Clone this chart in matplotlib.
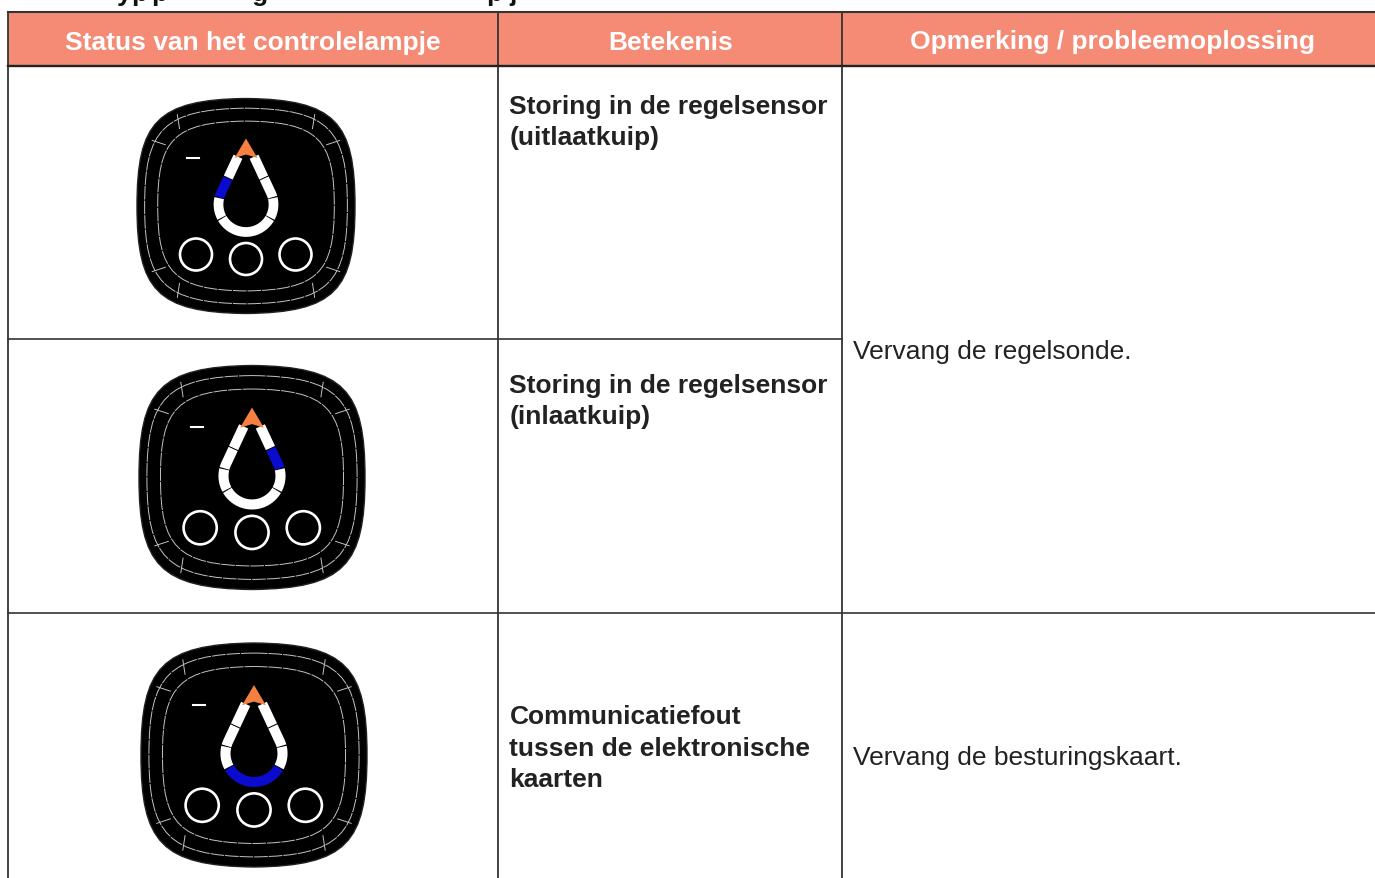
import numpy as np
import matplotlib
matplotlib.use("Agg")
import matplotlib.pyplot as plt
from matplotlib.path import Path
from matplotlib.patches import PathPatch, Polygon, Circle, Rectangle

plt.rcParams['font.family'] = ['Liberation Sans', 'DejaVu Sans']

W, H = 1375, 879
COL_X = [8.5, 498.5, 842.5, 1375]
ROW_Y = [12.5, 66.5, 339.5, 613.5, 879]

HEADERS = ["Status van het controlelampje", "Betekenis", "Opmerking / probleemoplossing"]
HEADER_X = [252.5, 671, 1112.5]
HEADER_Y = [43, 43, 42]

MEANINGS = ["Storing in de regelsensor\n(uitlaatkuip)",
            "Storing in de regelsensor\n(inlaatkuip)",
            "Communicatiefout\ntussen de elektronische\nkaarten"]
MEANING_Y = [95, 374, 705.5]
REMARKS = ["Vervang de regelsonde.", "Vervang de besturingskaart."]
REMARK_Y = [352.5, 758.5]

# clipped title above the table, only the descenders are visible
TITLE_BITS = [("y", 117), ("p", 131.5), ("p", 151.5), ("g", 251.5), ("p", 486.5), ("j", 509)]

# icon centre x, centre y, half width, half height, blue segment
ICONS = [(246, 207, 109, 107.5, "left"),
         (252, 478.5, 113, 112, "right"),
         (254, 756, 113, 112, "bottom")]

HEADER_COLOR = "#F58A75"
LINE_COLOR = "#333333"
TEXT_COLOR = "#222222"
RING_COLOR = "#C4C4C4"
BLUE = "#0B0BD0"
ORANGE = "#F5803F"


def bulged_square():
    q = np.array([(0, -1), (0.82, -0.99), (1, -0.78), (1, 0)])
    pts = np.vstack([q, (q * [1, -1])[::-1][1:], (q * [-1, -1])[1:], (q * [-1, 1])[::-1][1:]])
    codes = [Path.MOVETO] + [Path.CURVE4] * (len(pts) - 1)
    return pts, codes


def drop_line(d0, d1, side):
    # centreline of the drop, d = distance from the tip in px
    r, tip = 27.5, 65.0
    a_t = np.degrees(np.arccos(r / tip))
    straight = np.sqrt(tip ** 2 - r ** 2)
    out = []
    for d in np.linspace(d0, d1, 30):
        if d <= straight:
            f = d / straight
            x = f * r * np.sin(np.radians(a_t))
            y = -tip + f * (tip - r * np.cos(np.radians(a_t)))
        else:
            a = np.radians(a_t + (d - straight) / r * 180 / np.pi)
            x, y = r * np.sin(a), -r * np.cos(a)
        out.append((side * x, y))
    return np.array(out)


def draw_icon(ax, cx, cy, hw, hh, blue):
    pts, codes = bulged_square()
    ax.add_patch(PathPatch(Path(pts * [hw, hh] + [cx, cy], codes), fc="black", ec="#222222", lw=1, zorder=3))
    for sx, sy in [(0.93, 0.91), (0.81, 0.79)]:
        ax.add_patch(PathPatch(Path(pts * [hw * sx, hh * sy] + [cx, cy], codes), fc="none", ec=RING_COLOR,
                               lw=0.7, ls=(0, (14, 1)), zorder=4))
    for mx in (-1, 1):
        for my in (-1, 1):
            ax.plot([cx + mx * 0.63 * hw, cx + mx * 0.61 * hw], [cy + my * 0.85 * hh, cy + my * 0.72 * hh],
                    color=RING_COLOR, lw=0.7, zorder=4)
            ax.plot([cx + mx * 0.86 * hw, cx + mx * 0.74 * hw], [cy + my * 0.61 * hh, cy + my * 0.57 * hh],
                    color=RING_COLOR, lw=0.7, zorder=4)

    s = hw / 109
    dc = np.array([cx, cy - 1.5 * s])
    for a, b in [(19, 42), (43, 63.5), (64.5, 84.5)]:
        for side, name in [(-1, "left"), (1, "right")]:
            col = BLUE if (name == blue and a == 43) else "white"
            p = drop_line(a, b, side) * s + dc
            ax.plot(p[:, 0], p[:, 1], color=col, lw=7.0 * s, solid_capstyle="butt", zorder=5)
    p = np.vstack([drop_line(85.5, 114.1, -1), drop_line(85.5, 114.1, 1)[::-1]]) * s + dc
    ax.plot(p[:, 0], p[:, 1], color=BLUE if blue == "bottom" else "white", lw=7.0 * s,
            solid_capstyle="butt", zorder=5)
    tri = np.array([(0, -66), (-11.5, -46.5), (0, -50), (11.5, -46.5)]) * s + dc
    ax.add_patch(Polygon(tri, fc=ORANGE, ec="none", zorder=6))

    # the dash and the three round lamps
    ax.plot([cx - 58.5 * s, cx - 47 * s], [cy - 48.5 * s, cy - 48.5 * s], color="white", lw=1.5, zorder=5)
    for dx, dy in [(-50, 48.5), (0, 53), (49.5, 48.5)]:
        ax.add_patch(Circle((cx + dx * s, cy + dy * s), 16 * s, fc="none", ec="white", lw=1.9, zorder=5))


fig = plt.figure(figsize=(W / 100, H / 100), dpi=100)
ax = fig.add_axes([0, 0, 1, 1])
ax.set_xlim(0, W)
ax.set_ylim(H, 0)
ax.axis("off")

for t, x in TITLE_BITS:
    ax.text(x, 1, t, fontsize=19, fontweight="bold", color="#111111", ha="left", va="baseline", clip_on=True)

ax.add_patch(Rectangle((COL_X[0], ROW_Y[0]), W - COL_X[0], ROW_Y[1] - ROW_Y[0], fc=HEADER_COLOR, ec="none"))

# table lines
for x in COL_X[:3]:
    ax.plot([x, x], [ROW_Y[0], H], color=LINE_COLOR, lw=1.3, zorder=2)
ax.plot([COL_X[0], W], [ROW_Y[0], ROW_Y[0]], color=LINE_COLOR, lw=1.5, zorder=2)
ax.plot([COL_X[0], W], [ROW_Y[1], ROW_Y[1]], color="#222222", lw=1.7, zorder=2)
ax.plot([COL_X[0], COL_X[2]], [ROW_Y[2], ROW_Y[2]], color=LINE_COLOR, lw=1.2, zorder=2)
ax.plot([COL_X[0], W], [ROW_Y[3], ROW_Y[3]], color=LINE_COLOR, lw=1.2, zorder=2)

for t, x, y in zip(HEADERS, HEADER_X, HEADER_Y):
    ax.text(x, y, t, color="white", fontsize=19, fontweight="bold", ha="center", va="center")

for t, y in zip(MEANINGS, MEANING_Y):
    ax.text(509.5, y, t, color=TEXT_COLOR, fontsize=19, fontweight="bold", ha="left", va="top", linespacing=1.39)

for t, y in zip(REMARKS, REMARK_Y):
    ax.text(853, y, t, color=TEXT_COLOR, fontsize=19, ha="left", va="center")

for cx, cy, hw, hh, blue in ICONS:
    draw_icon(ax, cx, cy, hw, hh, blue)

fig.savefig("out.png", dpi=100)
